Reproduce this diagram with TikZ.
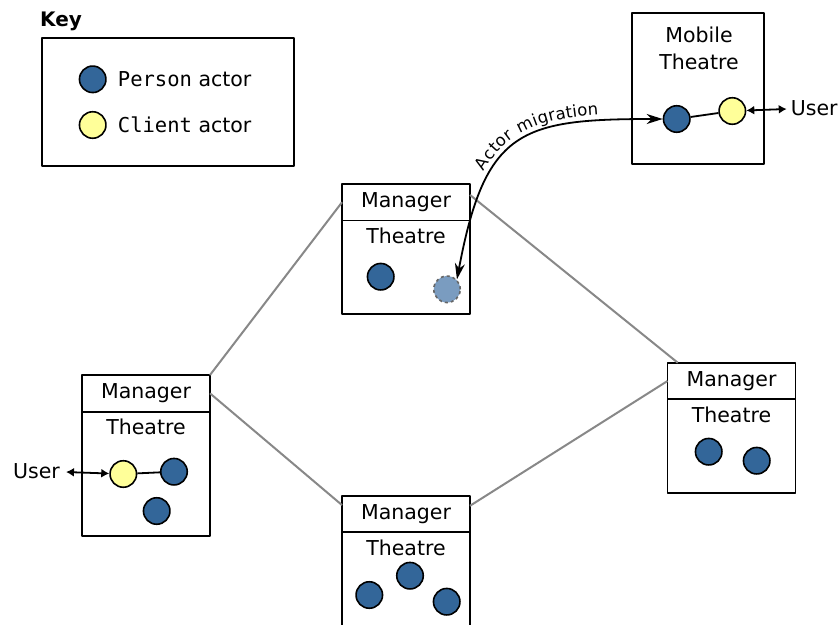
\documentclass[tikz,border=0pt]{standalone}
\usepackage{fontspec}
\setmainfont{DejaVu Sans}
\setmonofont{DejaVu Sans Mono}
\usetikzlibrary{positioning,calc,arrows.meta,decorations.text}
\definecolor{personblue}{HTML}{336699}
\definecolor{clientyellow}{HTML}{FFFF99}
\definecolor{movedblue}{HTML}{7A9CC0}
\definecolor{linkgrey}{HTML}{888888}
\begin{document}
\begin{tikzpicture}[x=1pt,y=-1pt,line join=round,>={Stealth[length=16pt,width=10pt,inset=5pt]}]
	\tikzset{every node/.style={font=\fontsize{20.5}{24}\selectfont,inner sep=0pt},
		box/.style={draw,line width=1.9pt,minimum width=128pt,outer sep=0pt},
		actor/.style={circle,draw,line width=1.6pt,minimum size=26.5pt},
		person/.style={actor,fill=personblue},
		client/.style={actor,fill=clientyellow},
		moved/.style={actor,fill=movedblue,draw=black!60,dashed},
		link/.style={linkgrey,line width=2pt},
		useredge/.style={<->,>={Latex[length=8pt,width=9pt]},line width=1.8pt}}
	\clip (0,0) rectangle (840,624);
	% key
	\node[anchor=west,font=\bfseries\fontsize{20}{24}\selectfont] (keyt) at (40,21) {Key};
	\node[box,minimum width=252pt,minimum height=128pt] (key) at (167.8,102.2) {};
	\node[person] (kp) at (92.7,79.3) {};
	\node[client] (kc) at (92.7,125) {};
	\node[right=11pt of kp] (kpt) {\texttt{Person} actor};
	\node[right=11pt of kc] (kct) {\texttt{Client} actor};
	% theatres
	\node[box,minimum height=36.5pt] (tmh) at (406,202.25) {Manager};
	\node[box,minimum height=93.5pt,below=0pt of tmh] (tmb) {};
	\node (tmt) at (406,236.3) {Theatre};
	\node[box,minimum height=36.7pt] (lmh) at (146,393.35) {Manager};
	\node[box,minimum height=124pt,below=0pt of lmh] (lmb) {};
	\node (lmt) at (146,427.3) {Theatre};
	\node[box,minimum height=36.6pt] (rmh) at (731.5,381) {Manager};
	\node[box,minimum height=93.4pt,below=0pt of rmh] (rmb) {};
	\node (rmt) at (731.5,415) {Theatre};
	\node[box,minimum height=36pt] (bmh) at (406,513.7) {Manager};
	\node[box,minimum height=140pt,below=0pt of bmh] (bmb) {};
	\node (bmt) at (406,548) {Theatre};
	\node[box,minimum width=132pt,minimum height=151pt] (mt) at (697.8,88.3) {};
	\node (mtt1) at (699,34.9) {Mobile};
	\node (mtt2) at (699,61.5) {Theatre};
	% links
	\draw[link] (lmh.north east) -- (tmh.west);
	\draw[link] ($(tmh.north east)!0.3!(tmh.south east)$) -- ($(rmh.north west)!0.08!(rmh.north east)$);
	\draw[link] (lmh.east) -- ($(bmh.north west)!0.26!(bmh.south west)$);
	\draw[link] ($(bmh.north east)!0.28!(bmh.south east)$) -- (rmh.west);
	% actors
	\node[person] (tp) at (380.7,276.7) {};
	\node[moved] (mig) at (447,289.3) {};
	\node[client] (lc) at (123.3,474) {};
	\node[person] (lp1) at (174,471.7) {};
	\node[person] (lp2) at (156.7,511) {};
	\node[person] (rp1) at (708.7,451.7) {};
	\node[person] (rp2) at (756.7,460.7) {};
	\node[person] (bp1) at (369.3,595) {};
	\node[person] (bp2) at (410,575.7) {};
	\node[person] (bp3) at (446.7,601.7) {};
	\node[person] (mp) at (676.7,119) {};
	\node[client] (mc) at (732.3,111) {};
	\draw[line width=1.8pt] (lc) -- (lp1);
	\draw[line width=1.8pt] (mp) -- (mc);
	% users
	\node[anchor=east] (lu) at (60,471) {User};
	\node[anchor=west] (mu) at (790.7,108) {User};
	\draw[useredge,shorten <=6pt] (lu) -- (lc);
	\draw[useredge,shorten >=4pt] (mc) -- (mu);
	% migration
	\draw[<->,line width=1.8pt] (mig.45) .. controls (485,130) and (520,119) .. (mp.west);
	\path[postaction={decorate},decoration={text along path,raise=6pt,text align={left indent=110pt},
		text={|\fontsize{16.5}{18}\selectfont|Actor migration}}]
		(mig.45) .. controls (485,130) and (520,119) .. (mp.west);
\end{tikzpicture}
\end{document}
